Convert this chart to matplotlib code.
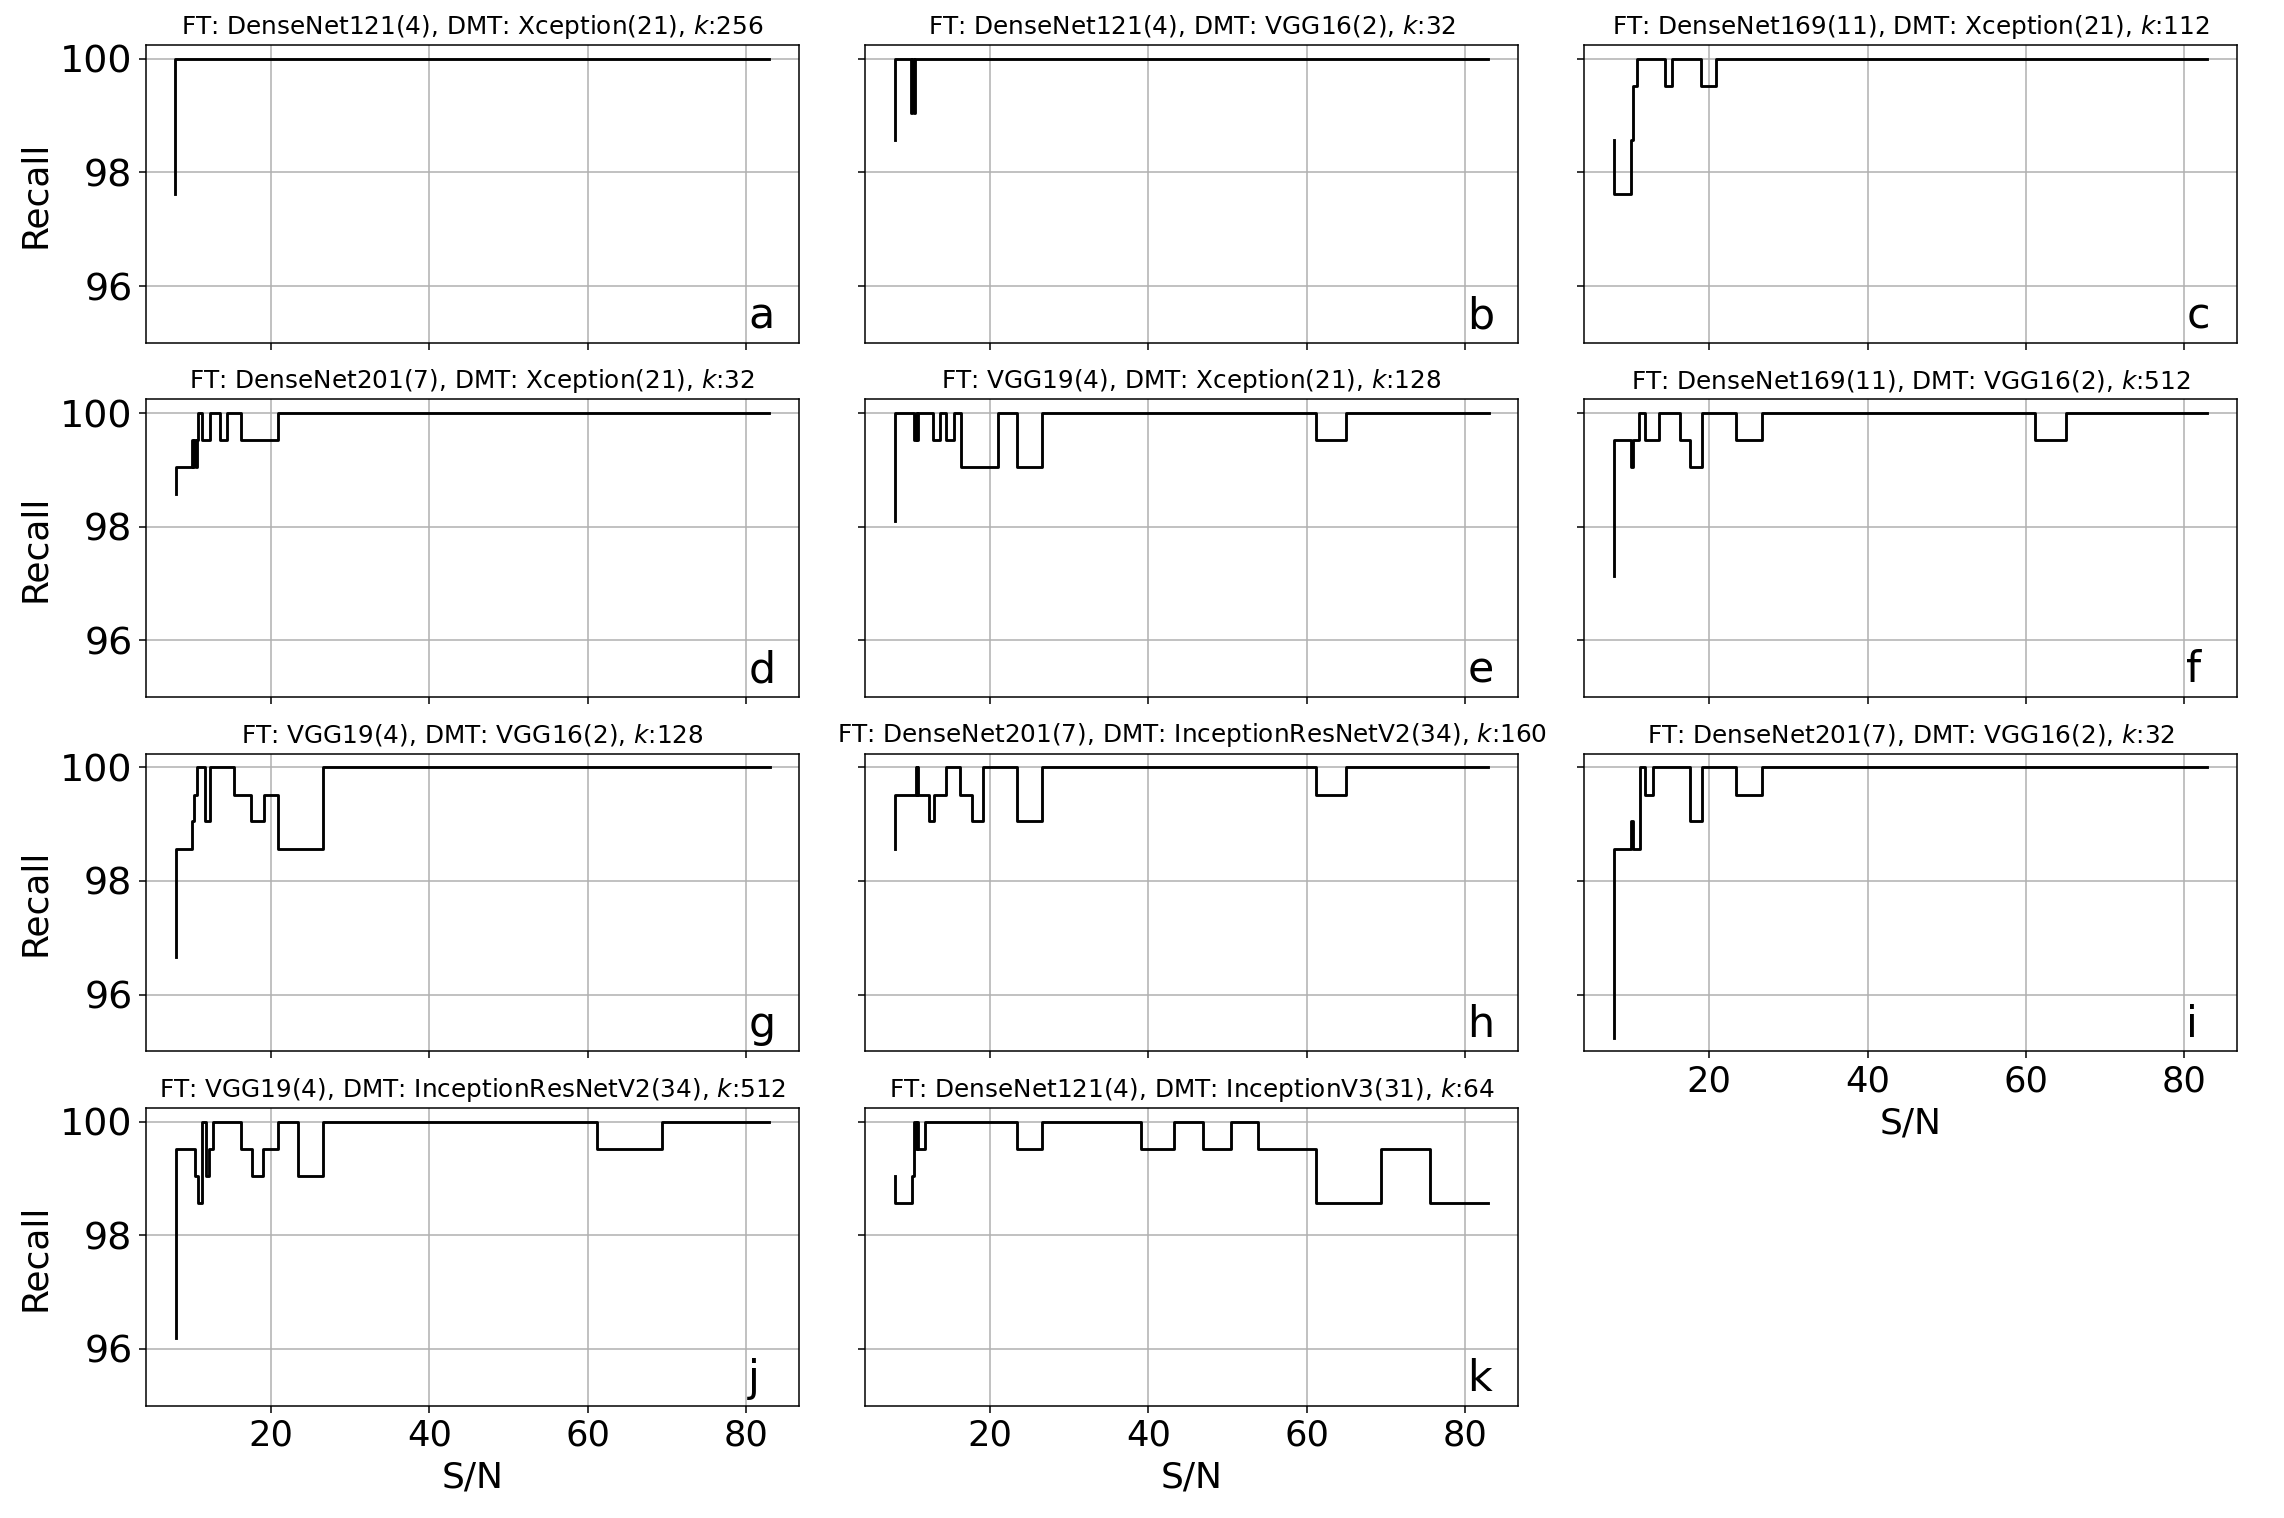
import matplotlib
matplotlib.use('Agg')
import matplotlib.pyplot as plt


# 每个子图的 S/N 断点和 Recall 数值 (阶梯图, where='pre')
sn_a = [7.9, 82.9]
rec_a = [97.62, 100]

sn_b = [7.95, 10.0, 10.15, 10.3, 10.45, 82.9]
rec_b = [98.57, 100, 99.05, 100, 99.05, 100]

sn_c = [7.95, 10.1, 10.4, 10.8, 14.4, 15.3, 19.0, 20.9, 82.9]
rec_c = [98.57, 97.62, 98.57, 99.52, 100, 99.52, 100, 99.52, 100]

sn_d = [7.92, 10.0, 10.15, 10.3, 10.45, 10.6, 10.8, 11.24, 12.25, 13.48, 14.44, 16.18, 20.9, 82.9]
rec_d = [98.57, 99.05, 99.52, 99.05, 99.52, 99.05, 99.52, 100, 99.52, 100, 99.52, 100, 99.52, 100]

sn_e = [7.98, 10.39, 10.6, 10.75, 10.9, 12.8, 13.6, 14.44, 15.4, 16.3, 20.96, 23.4, 26.6, 61.2, 65.0, 83.0]
rec_e = [98.1, 100, 99.52, 100, 99.52, 100, 99.52, 100, 99.52, 100, 99.05, 100, 99.05, 100, 99.52, 100]

sn_f = [7.98, 10.1, 10.35, 11.1, 11.85, 13.6, 16.3, 17.6, 19.1, 23.4, 26.6, 61.2, 65.1, 82.9]
rec_f = [97.14, 99.52, 99.05, 99.52, 100, 99.52, 100, 99.52, 99.05, 100, 99.52, 100, 99.52, 100]

sn_g = [7.92, 10.0, 10.28, 10.67, 11.63, 12.25, 15.28, 17.5, 19.04, 20.9, 26.5, 83.0]
rec_g = [96.67, 98.57, 99.05, 99.52, 100, 99.05, 100, 99.52, 99.05, 99.52, 98.57, 100]

sn_h = [7.92, 10.56, 10.7, 10.8, 10.9, 12.2, 12.87, 14.44, 16.24, 17.64, 19.04, 23.37, 26.57, 61.18, 65.0, 82.9]
rec_h = [98.57, 99.52, 100, 99.52, 100, 99.52, 99.05, 99.52, 100, 99.52, 99.05, 100, 99.05, 100, 99.52, 100]

sn_i = [7.98, 10.1, 10.3, 11.24, 11.85, 12.87, 17.6, 19.1, 23.4, 26.6, 82.9]
rec_i = [95.24, 98.57, 99.05, 98.57, 100, 99.52, 100, 99.05, 100, 99.52, 100]

sn_j = [7.92, 10.4, 10.7, 11.2, 11.8, 12.2, 12.7, 16.24, 17.58, 18.99, 20.9, 23.37, 26.5, 61.18, 69.44, 82.9]
rec_j = [96.19, 99.52, 99.05, 98.57, 100, 99.05, 99.52, 100, 99.52, 99.05, 99.52, 100, 99.05, 100, 99.52, 100]

sn_k = [7.92, 10.06, 10.4, 10.6, 10.7, 10.9, 11.74, 23.37, 26.57, 39.04, 43.2, 46.9, 50.45, 53.8, 61.18, 69.44, 75.56, 82.9]
rec_k = [99.05, 98.57, 99.05, 100, 99.52, 100, 99.52, 100, 99.52, 100, 99.52, 100, 99.52, 100, 99.52, 98.57, 99.52, 98.57]

titles = [
    'FT: DenseNet121(4), DMT: Xception(21), $k$:256',
    'FT: DenseNet121(4), DMT: VGG16(2), $k$:32',
    'FT: DenseNet169(11), DMT: Xception(21), $k$:112',
    'FT: DenseNet201(7), DMT: Xception(21), $k$:32',
    'FT: VGG19(4), DMT: Xception(21), $k$:128',
    'FT: DenseNet169(11), DMT: VGG16(2), $k$:512',
    'FT: VGG19(4), DMT: VGG16(2), $k$:128',
    'FT: DenseNet201(7), DMT: InceptionResNetV2(34), $k$:160',
    'FT: DenseNet201(7), DMT: VGG16(2), $k$:32',
    'FT: VGG19(4), DMT: InceptionResNetV2(34), $k$:512',
    'FT: DenseNet121(4), DMT: InceptionV3(31), $k$:64',
]
letters = ['a', 'b', 'c', 'd', 'e', 'f', 'g', 'h', 'i', 'j', 'k']
series = [(sn_a, rec_a), (sn_b, rec_b), (sn_c, rec_c), (sn_d, rec_d), (sn_e, rec_e),
          (sn_f, rec_f), (sn_g, rec_g), (sn_h, rec_h), (sn_i, rec_i), (sn_j, rec_j),
          (sn_k, rec_k)]

# 原图约 137dpi 的默认样式, 这里按 100dpi 换算
s = 1.37
plt.rcParams['axes.linewidth'] = 0.8 * s
plt.rcParams['xtick.major.width'] = 0.8 * s
plt.rcParams['ytick.major.width'] = 0.8 * s
plt.rcParams['xtick.major.size'] = 3.5 * s
plt.rcParams['ytick.major.size'] = 3.5 * s
plt.rcParams['xtick.major.pad'] = 3.5 * s
plt.rcParams['ytick.major.pad'] = 3.5 * s
plt.rcParams['grid.linewidth'] = 0.8 * s

fig, axes = plt.subplots(4, 3, figsize=(22.84, 15.18), dpi=100, sharex=True, sharey=True)
fig.subplots_adjust(left=0.0638, right=0.9796, top=0.9702, bottom=0.074, wspace=0.1004, hspace=0.19)

for n, ax in enumerate(axes.flat):
    if n >= len(series):
        ax.remove()
        continue
    sn, rec = series[n]
    ax.step(sn, rec, where='pre', color='black', linewidth=1.5 * s)
    ax.set_title(titles[n], fontsize=13 * s, pad=6 * s)
    ax.text(0.922, 0.05, letters[n], transform=ax.transAxes, fontsize=22.5 * s)
    ax.grid(True)
    ax.set_xticks([20, 40, 60, 80])
    ax.set_yticks([96, 98, 100])
    ax.tick_params(axis='x', labelsize=18.5 * s)
    ax.tick_params(axis='y', labelsize=20 * s)
    row, col = divmod(n, 3)
    if col == 0:
        ax.set_ylabel('Recall', fontsize=19 * s, labelpad=4 * s)
    else:
        ax.tick_params(labelleft=False)
    # 最下面一行 (含缺了下方子图的 i) 显示横轴
    if n >= 8:
        ax.tick_params(labelbottom=True)
        ax.set_xlabel('S/N', fontsize=19 * s, labelpad=4 * s)
    else:
        ax.tick_params(labelbottom=False)

plt.savefig('out.png', dpi=100)
